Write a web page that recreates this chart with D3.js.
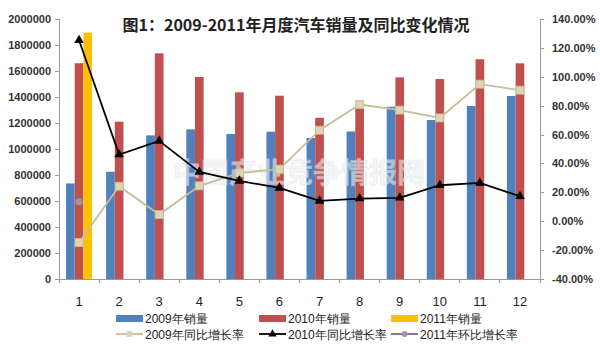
<!DOCTYPE html>
<html>
<head>
<meta charset="UTF-8">
<title>2009-2011年月度汽车销量</title>
<script src="https://d3js.org/d3.v7.min.js"></script>
<style>
  body { margin: 0; background: #fff; }
  svg text { font-family: "Liberation Sans", Arial, sans-serif; }
  .cjk { font-family: "Noto Sans CJK SC", sans-serif; }
  .axis path, .axis line { stroke: #9a9a9a; shape-rendering: crispEdges; }
  .axis text { fill: #333; font-size: 11px; font-weight: bold; }
</style>
</head>
<body>
<div id="chart"></div>
<script>
// monthly sales and growth rates
const months = ["1","2","3","4","5","6","7","8","9","10","11","12"];
const sales2009 = [735000, 825000, 1105000, 1151000, 1115000, 1133000, 1085000, 1135000, 1325000, 1223000, 1331000, 1408000];
const sales2010 = [1660000, 1210000, 1736000, 1554000, 1436000, 1410000, 1240000, 1315000, 1551000, 1538000, 1690000, 1659000];
const sales2011 = [1895000];
const yoy2009 = [-14.8, 24.2, 4.6, 24.5, 33.5, 36.0, 63.0, 80.8, 76.9, 71.5, 94.9, 90.7];
const yoy2010 = [125.3, 46.2, 55.6, 34.1, 27.9, 23.1, 14.1, 15.7, 16.2, 24.9, 26.5, 17.3];
const mom2011 = [13.4];
const leftTicks = [0, 200000, 400000, 600000, 800000, 1000000, 1200000, 1400000, 1600000, 1800000, 2000000];
const rightTicks = [-40, -20, 0, 20, 40, 60, 80, 100, 120, 140];

const width = 600, height = 344;
const svg = d3.select("#chart").append("svg")
  .attr("width", width).attr("height", height);

const x = d3.scaleBand().domain(months).range([59, 540]);
const x1 = d3.scaleBand().domain(["2009", "2010", "2011"])
  .range([0, x.bandwidth()]).paddingOuter(0.81);
const yL = d3.scaleLinear().domain([0, 2000000]).range([279, 19]);
const yR = d3.scaleLinear().domain([-40, 140]).range([279, 19]);

// title
svg.append("text").attr("class", "cjk")
  .attr("x", 296).attr("y", 31).attr("text-anchor", "middle")
  .attr("font-size", 16).attr("font-weight", "bold").attr("fill", "#222")
  .text("图1：2009-2011年月度汽车销量及同比变化情况");

// bars
const barSeries = [
  { key: "2009", values: sales2009, color: "#4F81BD" },
  { key: "2010", values: sales2010, color: "#C0504D" },
  { key: "2011", values: sales2011, color: "#FFC000" }
];
barSeries.forEach(s => {
  svg.append("g").selectAll("rect")
    .data(s.values)
    .join("rect")
    .attr("x", (d, i) => x(months[i]) + x1(s.key))
    .attr("width", x1.bandwidth())
    .attr("y", d => yL(d))
    .attr("height", d => yL(0) - yL(d))
    .attr("fill", s.color);
});

// watermark
svg.append("text").attr("class", "cjk")
  .attr("x", 299).attr("y", 183).attr("text-anchor", "middle")
  .attr("font-size", 28).attr("font-weight", "bold")
  .attr("fill", "#eef0f3").attr("opacity", 0.6)
  .attr("stroke", "#d8dde3").attr("stroke-width", 0.6)
  .text("中国产业竞争情报网");

// axes
svg.append("g").attr("class", "axis")
  .attr("transform", "translate(59,0)")
  .call(d3.axisLeft(yL).tickValues(leftTicks).tickFormat(d3.format("d")).tickSize(4).tickPadding(4));

svg.append("g").attr("class", "axis")
  .attr("transform", "translate(540,0)")
  .call(d3.axisRight(yR).tickValues(rightTicks).tickFormat(d => d.toFixed(2) + "%").tickSize(4).tickPadding(8));

const xAxis = svg.append("g").attr("class", "axis")
  .attr("transform", "translate(0,279)");
xAxis.append("line").attr("x1", 59).attr("x2", 540).attr("y1", 0).attr("y2", 0);
xAxis.selectAll("line.tick")
  .data(months.concat(["end"]))
  .join("line").attr("class", "tick")
  .attr("x1", (d, i) => i < months.length ? x(d) : x.range()[1])
  .attr("x2", (d, i) => i < months.length ? x(d) : x.range()[1])
  .attr("y1", 0).attr("y2", 4);
svg.append("g").selectAll("text")
  .data(months)
  .join("text")
  .attr("x", d => x(d) + x.bandwidth() / 2)
  .attr("y", 306).attr("text-anchor", "middle")
  .attr("font-size", 13).attr("fill", "#222")
  .text(d => d);

// lines
const cx = i => x(months[i]) + x.bandwidth() / 2;
const line = d3.line().x((d, i) => cx(i)).y(d => yR(d));

svg.append("path").datum(yoy2009)
  .attr("fill", "none").attr("stroke", "#C4BD97").attr("stroke-width", 1.8)
  .attr("d", line);
svg.append("g").selectAll("rect")
  .data(yoy2009).join("rect")
  .attr("x", (d, i) => cx(i) - 4).attr("y", d => yR(d) - 4)
  .attr("width", 8).attr("height", 8)
  .attr("fill", "#DDD3B5").attr("stroke", "#C9BC98").attr("stroke-width", 0.8);

svg.append("path").datum(yoy2010)
  .attr("fill", "none").attr("stroke", "#000").attr("stroke-width", 1.8)
  .attr("d", line);
const tri = d3.symbol().type(d3.symbolTriangle).size(40);
svg.append("g").selectAll("path")
  .data(yoy2010).join("path")
  .attr("transform", (d, i) => `translate(${cx(i)},${yR(d)})`)
  .attr("d", tri).attr("fill", "#000");

svg.append("path").datum(mom2011)
  .attr("fill", "none").attr("stroke", "#8064A2").attr("stroke-width", 1.8)
  .attr("d", line);
svg.append("g").selectAll("circle")
  .data(mom2011).join("circle")
  .attr("cx", (d, i) => cx(i)).attr("cy", d => yR(d))
  .attr("r", 3.5).attr("fill", "#9C98A8");

// legend
const legend = svg.append("g").attr("class", "cjk");
const legendCols = [116, 259, 391];
barSeries.forEach((s, i) => {
  legend.append("rect")
    .attr("x", legendCols[i]).attr("y", 315)
    .attr("width", 27).attr("height", 7).attr("fill", s.color);
  legend.append("text")
    .attr("x", legendCols[i] + 29).attr("y", 323)
    .attr("font-size", 12).attr("fill", "#222")
    .text(s.key + "年销量");
});
const lineItems = [
  { label: "2009年同比增长率", color: "#C4BD97", marker: "square" },
  { label: "2010年同比增长率", color: "#000", marker: "triangle" },
  { label: "2011年环比增长率", color: "#8064A2", marker: "circle" }
];
lineItems.forEach((s, i) => {
  const lx = legendCols[i], ly = 334;
  legend.append("line")
    .attr("x1", lx).attr("x2", lx + 27).attr("y1", ly).attr("y2", ly)
    .attr("stroke", s.color).attr("stroke-width", 1.8);
  if (s.marker === "square") {
    legend.append("rect").attr("x", lx + 10.5).attr("y", ly - 3)
      .attr("width", 6).attr("height", 6).attr("fill", "#DDD3B5");
  } else if (s.marker === "triangle") {
    legend.append("path").attr("transform", `translate(${lx + 13.5},${ly})`)
      .attr("d", d3.symbol().type(d3.symbolTriangle).size(30)).attr("fill", "#000");
  } else {
    legend.append("circle").attr("cx", lx + 13.5).attr("cy", ly).attr("r", 3).attr("fill", "#9C98A8");
  }
  legend.append("text")
    .attr("x", lx + 29).attr("y", ly + 5)
    .attr("font-size", 12).attr("fill", "#222")
    .text(s.label);
});
</script>
</body>
</html>
